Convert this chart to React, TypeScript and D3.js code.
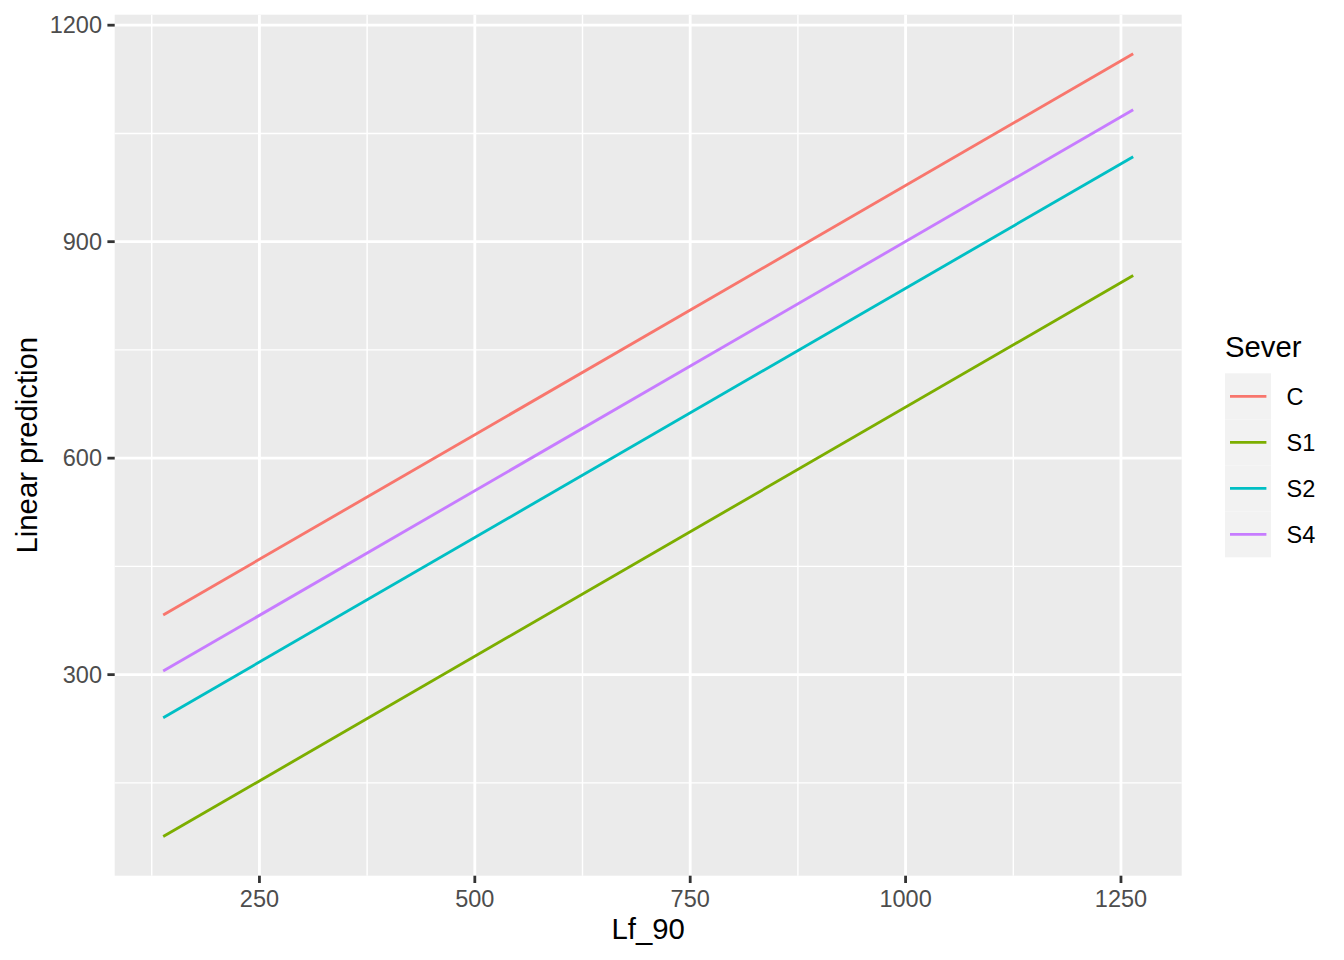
import React from "react";
import * as d3 from "d3";

const lfValues = [138.3, 1264.2];
const seriesNames = ["C", "S1", "S2", "S4"];
const seriesColors = ["#F8766D", "#7CAE00", "#00BFC4", "#C77CFF"];
const predC = [382.7, 1160.3];
const predS1 = [75.6, 853.1];
const predS2 = [240.3, 1017.8];
const predS4 = [305.0, 1082.8];
const seriesValues = [predC, predS1, predS2, predS4];
const xTicks = [250, 500, 750, 1000, 1250];
const xMinor = [125, 375, 625, 875, 1125];
const yTicks = [300, 600, 900, 1200];
const yMinor = [150, 450, 750, 1050];

const W = 1344;
const H = 960;
const P = { left: 114.7, right: 1181.7, top: 14.7, bottom: 875.7 };
const FONT = "'Liberation Sans', Arial, Helvetica, sans-serif";

function expand(ext: [number, number], f = 0.05): [number, number] {
  const r = ext[1] - ext[0];
  return [ext[0] - r * f, ext[1] + r * f];
}

export default function App() {
  const xExt = d3.extent(lfValues) as [number, number];
  const yExt = d3.extent(seriesValues.flat()) as [number, number];
  const x = d3.scaleLinear().domain(expand(xExt)).range([P.left, P.right]);
  const y = d3.scaleLinear().domain(expand(yExt)).range([P.bottom, P.top]);
  const line = d3
    .line<[number, number]>()
    .x((d) => x(d[0]))
    .y((d) => y(d[1]));

  const legendX = 1225;
  const legendTop = 373.3;
  const keyH = 46;
  const keyW = 46;

  return (
    <svg
      width={W}
      height={H}
      style={{ position: "absolute", left: 0, top: 0, background: "#fff" }}
      fontFamily={FONT}
    >
      <rect x={0} y={0} width={W} height={H} fill="#fff" />
      <rect
        x={P.left}
        y={P.top}
        width={P.right - P.left}
        height={P.bottom - P.top}
        fill="#EBEBEB"
      />
      {xMinor.map((v) => (
        <line key={"xm" + v} x1={x(v)} x2={x(v)} y1={P.top} y2={P.bottom} stroke="#fff" strokeWidth={1.4} />
      ))}
      {yMinor.map((v) => (
        <line key={"ym" + v} x1={P.left} x2={P.right} y1={y(v)} y2={y(v)} stroke="#fff" strokeWidth={1.4} />
      ))}
      {xTicks.map((v) => (
        <line key={"xM" + v} x1={x(v)} x2={x(v)} y1={P.top} y2={P.bottom} stroke="#fff" strokeWidth={2.8} />
      ))}
      {yTicks.map((v) => (
        <line key={"yM" + v} x1={P.left} x2={P.right} y1={y(v)} y2={y(v)} stroke="#fff" strokeWidth={2.8} />
      ))}
      {seriesValues.map((vals, i) => (
        <path
          key={seriesNames[i]}
          d={line(lfValues.map((lv, j) => [lv, vals[j]]) as [number, number][]) || ""}
          fill="none"
          stroke={seriesColors[i]}
          strokeWidth={2.85}
        />
      ))}
      {/* x axis */}
      {xTicks.map((v) => (
        <g key={"xt" + v}>
          <line x1={x(v)} x2={x(v)} y1={P.bottom} y2={P.bottom + 7.3} stroke="#333" strokeWidth={2.8} />
          <text x={x(v)} y={906.5} textAnchor="middle" fontSize={23.5} fill="#4D4D4D">
            {v}
          </text>
        </g>
      ))}
      {/* y axis */}
      {yTicks.map((v) => (
        <g key={"yt" + v}>
          <line x1={P.left - 7.3} x2={P.left} y1={y(v)} y2={y(v)} stroke="#333" strokeWidth={2.8} />
          <text x={102} y={y(v)} dy="0.35em" textAnchor="end" fontSize={23.5} fill="#4D4D4D">
            {v}
          </text>
        </g>
      ))}
      <text x={(P.left + P.right) / 2} y={939} textAnchor="middle" fontSize={29.3} fill="#000">
        Lf_90
      </text>
      <text
        transform={`translate(36.5, ${(P.top + P.bottom) / 2}) rotate(-90)`}
        textAnchor="middle"
        fontSize={29.3}
        fill="#000"
      >
        Linear prediction
      </text>
      {/* legend */}
      <text x={1225} y={357.3} fontSize={29.3} fill="#000">
        Sever
      </text>
      {seriesNames.map((name, i) => {
        const cy = legendTop + keyH * i + keyH / 2;
        return (
          <g key={"lg" + name}>
            <rect x={legendX} y={legendTop + keyH * i} width={keyW} height={keyH} fill="#F2F2F2" />
            <line x1={legendX + 5} x2={legendX + keyW - 4.6} y1={cy} y2={cy} stroke={seriesColors[i]} strokeWidth={2.85} />
            <text x={1286.5} y={cy} dy="0.35em" fontSize={23.5} fill="#000">
              {name}
            </text>
          </g>
        );
      })}
    </svg>
  );
}
